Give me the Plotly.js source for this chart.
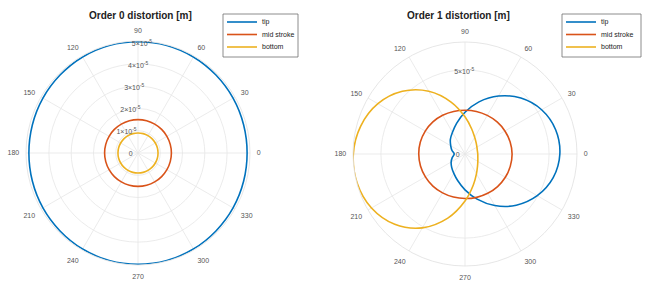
<!DOCTYPE html>
<html>
<head>
<meta charset="utf-8">
<script src="https://cdn.plot.ly/plotly-3.0.1.min.js"></script>
<style>html,body{margin:0;padding:0;background:#fff;}#chart{width:646px;height:288px;}</style>
</head>
<body>
<div id="chart"></div>
<script>
// angles in degrees (sampled every 15 deg)
const thetaDeg = [0,15,30,45,60,75,90,105,120,135,150,165,180,195,210,225,240,255,270,285,300,315,330,345];
const seriesNames = ['tip', 'mid stroke', 'bottom'];

// Order 0 distortion [m]
const order0Tip    = [4.90e-5,4.91e-5,4.93e-5,4.95e-5,4.98e-5,5.00e-5,5.00e-5,5.00e-5,4.98e-5,4.95e-5,4.93e-5,4.91e-5,4.90e-5,4.91e-5,4.93e-5,4.95e-5,4.98e-5,5.00e-5,5.00e-5,5.00e-5,4.98e-5,4.95e-5,4.93e-5,4.91e-5];
const order0Mid    = [1.50e-5,1.50e-5,1.50e-5,1.50e-5,1.50e-5,1.50e-5,1.50e-5,1.50e-5,1.50e-5,1.50e-5,1.50e-5,1.50e-5,1.50e-5,1.50e-5,1.50e-5,1.50e-5,1.50e-5,1.50e-5,1.50e-5,1.50e-5,1.50e-5,1.50e-5,1.50e-5,1.50e-5];
const order0Bottom = [0.90e-5,0.90e-5,0.90e-5,0.90e-5,0.90e-5,0.90e-5,0.90e-5,0.90e-5,0.90e-5,0.90e-5,0.90e-5,0.90e-5,0.90e-5,0.90e-5,0.90e-5,0.90e-5,0.90e-5,0.90e-5,0.90e-5,0.90e-5,0.90e-5,0.90e-5,0.90e-5,0.90e-5];

// Order 1 distortion [m]
const order1Tip    = [5.64e-5,5.58e-5,5.26e-5,4.70e-5,3.98e-5,3.21e-5,2.48e-5,1.90e-5,1.49e-5,1.23e-5,0.98e-5,0.80e-5,0.64e-5,0.78e-5,0.95e-5,1.12e-5,1.33e-5,1.65e-5,2.13e-5,2.78e-5,3.54e-5,4.31e-5,4.96e-5,5.43e-5];
const order1Mid    = [2.80e-5,2.78e-5,2.74e-5,2.70e-5,2.65e-5,2.62e-5,2.60e-5,2.62e-5,2.66e-5,2.70e-5,2.73e-5,2.75e-5,2.75e-5,2.74e-5,2.72e-5,2.70e-5,2.67e-5,2.65e-5,2.65e-5,2.67e-5,2.70e-5,2.74e-5,2.77e-5,2.79e-5];
const order1Bottom = [0.76e-5,0.76e-5,0.82e-5,0.94e-5,1.15e-5,1.54e-5,2.21e-5,3.20e-5,4.31e-5,5.27e-5,5.98e-5,6.42e-5,6.64e-5,6.64e-5,6.42e-5,5.91e-5,5.07e-5,3.95e-5,2.80e-5,1.91e-5,1.36e-5,1.05e-5,0.88e-5,0.79e-5];

const angTickVals = [0,30,60,90,120,150,180,210,240,270,300,330];
const angTickText = ['0','30','60','90','120','150','180','210','240','270','300','330'];
const r0TickVals = [0,1e-5,2e-5,3e-5,4e-5,5e-5];
const r0TickText = ['0','1\u00d710<sup>-5</sup>','2\u00d710<sup>-5</sup>','3\u00d710<sup>-5</sup>','4\u00d710<sup>-5</sup>','5\u00d710<sup>-5</sup>'];
const r1TickVals = [0,5e-5];
const r1TickText = ['0','5\u00d710<sup>-5</sup>'];

const colors = ['#0072BD','#D95319','#EDB120'];
const FONT = 'Liberation Sans, Arial, sans-serif';

function closed(a){ return a.concat([a[0]]); }
const th = closed(thetaDeg);

const data = [];
[order0Tip, order0Mid, order0Bottom].forEach((r,i)=>{
  data.push({type:'scatterpolar', mode:'lines', r: closed(r), theta: th, name: seriesNames[i],
    subplot:'polar', showlegend:false, line:{color:colors[i], width:1.6, shape:'spline', smoothing:1}});
});
[order1Tip, order1Mid, order1Bottom].forEach((r,i)=>{
  data.push({type:'scatterpolar', mode:'lines', r: closed(r), theta: th, name: seriesNames[i],
    subplot:'polar2', showlegend:false, line:{color:colors[i], width:1.6, shape:'spline', smoothing:1}});
});

const tickFont = {family:FONT, size:7, color:'#555'};
function polarCfg(domx, domy, range, tv, tt){
  return {
    domain:{x:domx, y:domy},
    bgcolor:'#fff',
    radialaxis:{range:range, tickmode:'array', tickvals:tv, ticktext:tt, angle:80, tickangle:80, side:'counterclockwise',
      showline:false, gridcolor:'#e6e6e6', gridwidth:0.8, ticks:'', tickfont:tickFont},
    angularaxis:{direction:'counterclockwise', rotation:0, tickmode:'array', tickvals:angTickVals, ticktext:angTickText,
      gridcolor:'#e6e6e6', gridwidth:0.8, showline:true, linecolor:'#e0e0e0', linewidth:0.8,
      ticks:'outside', ticklen:5, tickcolor:'rgba(0,0,0,0)', tickfont:tickFont}
  };
}

// legend boxes (pixel positions of box: left, top, right, bottom)
const W = 646, H = 288;
const px = x => x / W, py = y => 1 - y / H;
const shapes = [], annotations = [];
function addLegend(x0, y0, x1, y1){
  shapes.push({type:'rect', xref:'paper', yref:'paper', x0:px(x0), x1:px(x1), y0:py(y0), y1:py(y1),
    line:{color:'#6f6f6f', width:0.8}, fillcolor:'#fff'});
  seriesNames.forEach((nm,i)=>{
    const yy = y0 + 8 + i*12.5;
    shapes.push({type:'line', xref:'paper', yref:'paper', x0:px(x0+4), x1:px(x0+34), y0:py(yy), y1:py(yy),
      line:{color:colors[i], width:1.6}});
    annotations.push({text:nm, xref:'paper', yref:'paper', x:px(x0+37), y:py(yy), showarrow:false,
      xanchor:'left', yanchor:'middle', font:{family:FONT, size:7, color:'#222'}});
  });
}
addLegend(223, 14, 298, 57);
addLegend(562, 14, 641, 57);

annotations.push(
  {text:'<b>Order 0 distortion [m]</b>', xref:'paper', yref:'paper', x:px(140), y:py(15), showarrow:false,
    xanchor:'center', yanchor:'middle', font:{family:FONT, size:10, color:'#222'}},
  {text:'<b>Order 1 distortion [m]</b>', xref:'paper', yref:'paper', x:px(458), y:py(15), showarrow:false,
    xanchor:'center', yanchor:'middle', font:{family:FONT, size:10, color:'#222'}}
);

const layout = {
  width:W, height:H,
  margin:{l:0,r:0,t:0,b:0},
  paper_bgcolor:'#fff',
  showlegend:false,
  polar: polarCfg([px(26), px(250)], [py(265), py(41)], [0, 5.03e-5], r0TickVals, r0TickText),
  polar2: polarCfg([px(353), px(577)], [py(266), py(42)], [0, 6.66e-5], r1TickVals, r1TickText),
  shapes: shapes,
  annotations: annotations
};

Plotly.newPlot('chart', data, layout, {displayModeBar:false, staticPlot:true});
</script>
</body>
</html>
